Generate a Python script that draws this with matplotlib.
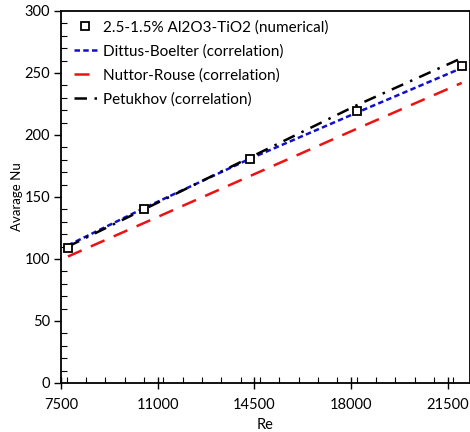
import matplotlib
matplotlib.use("Agg")
import matplotlib.pyplot as plt
from matplotlib.ticker import MultipleLocator, FixedLocator

plt.rcParams['font.family'] = ['Lato', 'DejaVu Sans']

re_vals = [7750, 10500, 14350, 18200, 22000]
nu_numerical = [109, 140, 181, 219, 256]
nu_dittus = [111, 141, 181, 218, 254]
nu_nuttor = [102, 129, 167, 205, 242]
nu_petukhov = [110, 140, 182, 224, 262]

x_ticks = [7500, 11000, 14500, 18000, 21500]
y_ticks = [0, 50, 100, 150, 200, 250, 300]

fig = plt.figure(figsize=(4.7, 4.32), dpi=100)
ax = fig.add_axes([61/470, 1-383/432, (470-61)/470, (383-11)/432])

ax.plot(re_vals, nu_dittus, color='#1010c8', lw=1.8, dashes=(2.2, 1.3),
        label='Dittus-Boelter (correlation)', zorder=2)
ax.plot(re_vals, nu_nuttor, color='#ee1111', lw=1.8, dashes=(6, 4),
        label='Nuttor-Rouse (correlation)', zorder=2)
ax.plot(re_vals, nu_petukhov, color='black', lw=1.8, dashes=(5, 3, 1, 3),
        label='Petukhov (correlation)', zorder=2)
ax.plot(re_vals, nu_numerical, ls='none', marker='s', ms=6, mfc='white',
        mec='black', mew=1.3, label='2.5-1.5% Al2O3-TiO2 (numerical)', zorder=3)

ax.set_xlim(7500, 22300)
ax.set_ylim(0, 300)
ax.xaxis.set_major_locator(FixedLocator(x_ticks))
ax.xaxis.set_minor_locator(MultipleLocator(700))
ax.yaxis.set_major_locator(FixedLocator(y_ticks))
ax.yaxis.set_minor_locator(MultipleLocator(10))

ax.tick_params(axis='x', which='major', direction='inout', length=8, width=1, labelsize=10.5, pad=7)
ax.tick_params(axis='x', which='minor', direction='in', length=4, width=0.8)
ax.tick_params(axis='y', which='major', direction='out', length=5, width=1, labelsize=10.5, pad=3)
ax.tick_params(axis='y', which='minor', direction='in', length=4, width=0.8)

for s in ['left', 'bottom', 'top', 'right']:
    ax.spines[s].set_linewidth(1.3)

ax.set_xlabel('Re', fontsize=10.5, labelpad=4)
ax.yaxis.set_label_coords(-(61-17)/409, 0.475)
ax.set_ylabel('Avarage Nu', fontsize=9.5, va='center')

h, l = ax.get_legend_handles_labels()
order = [3, 0, 1, 2]
ax.legend([h[i] for i in order], [l[i] for i in order], loc='upper left',
          bbox_to_anchor=((74-61)/409, (383-20)/372), borderaxespad=0, borderpad=0,
          frameon=False, fontsize=11,
          handlelength=1.5, handletextpad=0.4, labelspacing=0.64)

fig.savefig('out.png', dpi=100)
